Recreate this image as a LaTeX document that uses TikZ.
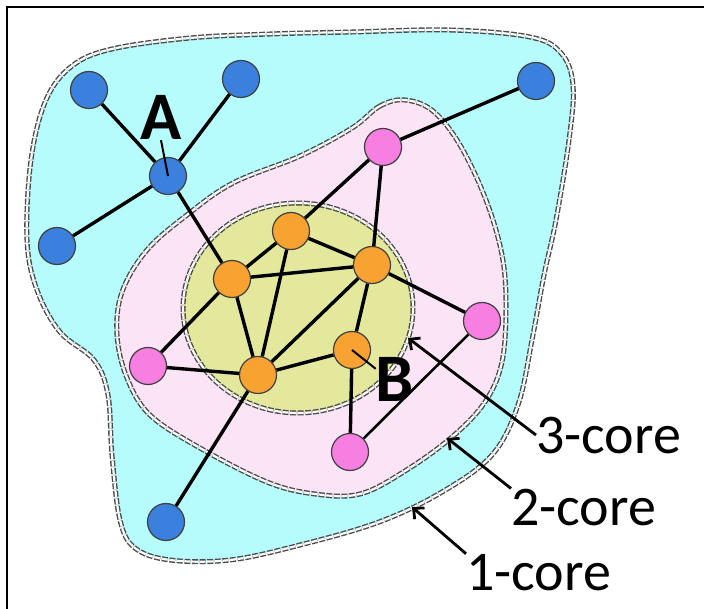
\documentclass[tikz,border=0pt]{standalone}
\usepackage{fontspec}
\setmainfont{Carlito}
\usetikzlibrary{arrows.meta}
\definecolor{onefill}{HTML}{B6FCFC}
\definecolor{twofill}{HTML}{FBE4F5}
\definecolor{threefill}{HTML}{E4E89C}
\definecolor{onenode}{HTML}{3A80DC}
\definecolor{twonode}{HTML}{F77FE2}
\definecolor{threenode}{HTML}{F8A232}

\begin{document}
\begin{tikzpicture}[x=1pt, y=-1pt,
	vtx/.style={circle, minimum size=37pt, inner sep=0pt, draw=black!75, line width=1.2pt},
	oneV/.style={vtx, fill=onenode},
	twoV/.style={vtx, fill=twonode},
	threeV/.style={vtx, fill=threenode},
	coreline/.style={draw=black!70, line width=1.4pt, double=white, double distance=2.2pt, dash pattern=on 6pt off 1.6pt},
	link/.style={line width=3.4pt, black},
	pointer/.style={line width=2.8pt, black, -{Straight Barb[length=8pt, width=15pt]}},
	corelabel/.style={inner sep=0pt, font=\fontsize{56}{60}\selectfont},
	letter/.style={inner sep=0pt, font=\bfseries\fontsize{68}{72}\selectfont}]
		%%%%% START %%%%%
		\useasboundingbox (0, 0) rectangle (704, 609);
		
		% frame
		\draw[line width=2.5pt] (7, 609) -- (7, 7) -- (704, 7);
		
		% cores
		\path[fill=onefill] plot[smooth cycle, tension=0.6] coordinates {(352,32) (450,30) (530,37) (561,53) (573,85) (569,140) (556,220) (544,275) (532,340) (518,405) (492,455) (442,492) (379,522) (300,545) (230,560) (170,560) (135,548) (120,520) (112,455) (108,395) (94,360) (60,332) (37,290) (27,240) (31,160) (46,100) (72,66) (112,49) (190,38) (270,34)};
		\path[fill=twofill] plot[smooth cycle, tension=0.6] coordinates {(352,128) (380,106) (405,100) (433,111) (460,145) (486,200) (502,255) (506,305) (502,362) (485,402) (452,437) (405,471) (360,494) (315,494) (267,482) (200,448) (150,415) (127,378) (117,335) (122,292) (147,250) (187,215) (233,183) (300,156)};
		\path[fill=threefill] (298, 308) ellipse [x radius=115, y radius=105];
		
		\draw[coreline] plot[smooth cycle, tension=0.6] coordinates {(352,32) (450,30) (530,37) (561,53) (573,85) (569,140) (556,220) (544,275) (532,340) (518,405) (492,455) (442,492) (379,522) (300,545) (230,560) (170,560) (135,548) (120,520) (112,455) (108,395) (94,360) (60,332) (37,290) (27,240) (31,160) (46,100) (72,66) (112,49) (190,38) (270,34)};
		\draw[coreline] plot[smooth cycle, tension=0.6] coordinates {(352,128) (380,106) (405,100) (433,111) (460,145) (486,200) (502,255) (506,305) (502,362) (485,402) (452,437) (405,471) (360,494) (315,494) (267,482) (200,448) (150,415) (127,378) (117,335) (122,292) (147,250) (187,215) (233,183) (300,156)};
		\draw[coreline] (298, 308) ellipse [x radius=115, y radius=105];
		
		% vertices
		\node[oneV] (b1) at (89, 90) {};
		\node[oneV] (b2) at (241, 79) {};
		\node[oneV] (bA) at (168, 176) {};
		\node[oneV] (b3) at (57, 246) {};
		\node[oneV] (b4) at (536, 81) {};
		\node[oneV] (b5) at (166, 522) {};
		
		\node[twoV] (p1) at (383, 147) {};
		\node[twoV] (p2) at (482, 321) {};
		\node[twoV] (p3) at (148, 366) {};
		\node[twoV] (p4) at (350, 452) {};
		
		\node[threeV] (o1) at (291, 231) {};
		\node[threeV] (o2) at (232, 279) {};
		\node[threeV] (o3) at (372, 265) {};
		\node[threeV] (o4) at (258, 375) {};
		\node[threeV] (oB) at (352, 350) {};
		
		% links
		\draw[link] (b1) -- (bA);
		\draw[link] (b2) -- (bA);
		\draw[link] (b3) -- (bA);
		\draw[link] (bA) -- (o2);
		\draw[link] (b4) -- (p1);
		\draw[link] (p1) -- (o1);
		\draw[link] (p1) -- (o3);
		\draw[link] (o1) -- (o2);
		\draw[link] (o1) -- (o3);
		\draw[link] (o1) -- (o4);
		\draw[link] (o2) -- (o3);
		\draw[link] (o2) -- (o4);
		\draw[link] (o2) -- (p3);
		\draw[link] (p3) -- (o4);
		\draw[link] (o3) -- (o4);
		\draw[link] (o3) -- (oB);
		\draw[link] (o3) -- (p2);
		\draw[link] (o4) -- (oB);
		\draw[link] (oB) -- (p4);
		\draw[link, line width=2.6pt] (p2) -- (p4);
		\draw[link] (o4) -- (b5);
		
		% labels
		\node[letter, anchor=base] (labA) at (161, 140) {A};
		\draw[line width=2pt] (labA.south) -- (bA.center);
		\node[letter, anchor=base] (labB) at (395, 402) {B};
		\draw[line width=2pt] (oB.center) -- (labB.150);
		
		\coordinate (tip3) at (408, 338);
		\coordinate (tip2) at (447, 438);
		\coordinate (tip1) at (412, 507);
		\node[corelabel, anchor=base west] (core3) at (536, 453) {3-core};
		\node[corelabel, anchor=base west] (core2) at (511, 525) {2-core};
		\node[corelabel, anchor=base west] (core1) at (466, 590) {1-core};
		\draw[pointer] (core3.west) -- (tip3);
		\draw[pointer] (core2.north west) -- (tip2);
		\draw[pointer] (core1.north west) -- (tip1);
		%%%%% END %%%%%
\end{tikzpicture}
\end{document}
